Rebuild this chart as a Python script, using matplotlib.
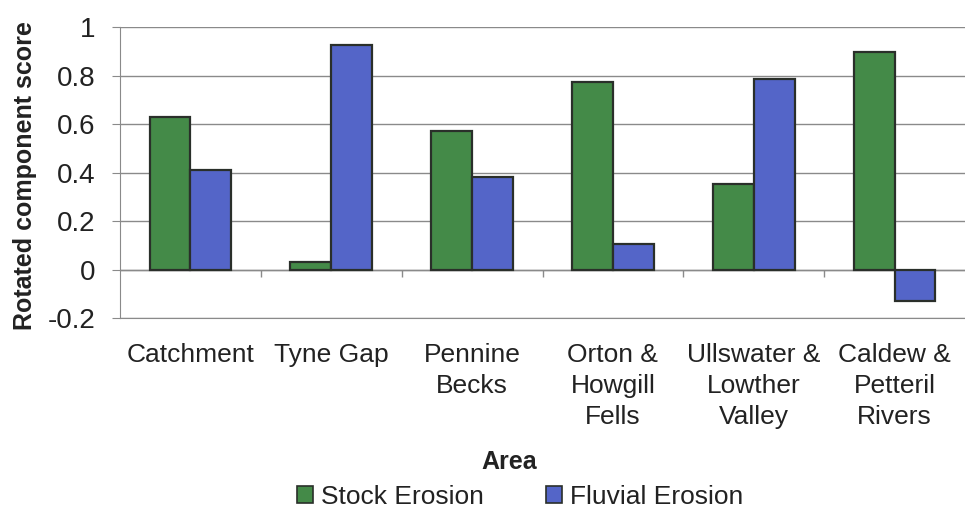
import matplotlib
matplotlib.use("Agg")
import matplotlib.pyplot as plt
import numpy as np
from matplotlib.patches import Patch

plt.rcParams['font.family'] = ['Liberation Sans', 'DejaVu Sans']

categories = ["Catchment", "Tyne Gap", "Pennine\nBecks", "Orton &\nHowgill\nFells",
              "Ullswater &\nLowther\nValley", "Caldew &\nPetteril\nRivers"]
stock_erosion = [0.63, 0.03, 0.57, 0.775, 0.353, 0.895]
fluvial_erosion = [0.41, 0.925, 0.38, 0.106, 0.786, -0.13]
series_names = ["Stock Erosion", "Fluvial Erosion"]
yticks = [-0.2, 0, 0.2, 0.4, 0.6, 0.8, 1]
ytick_labels = ["-0.2", "0", "0.2", "0.4", "0.6", "0.8", "1"]

green = "#448a48"
blue = "#5465c8"
edge = "#2a2f2a"
grid_c = "#8a8a8a"
text_c = "#222222"

fig = plt.figure(figsize=(9.65, 5.14), dpi=100)
ax = fig.add_axes([0.1244, 0.381, 0.8756, 0.5665])

x = np.arange(len(categories))
w = 0.29
ax.bar(x - w / 2, stock_erosion, w, color=green, edgecolor=edge, linewidth=1.6, zorder=3)
ax.bar(x + w / 2, fluvial_erosion, w, color=blue, edgecolor=edge, linewidth=1.6, zorder=3)

ax.set_xlim(-0.5, len(categories) - 0.5)
ax.set_ylim(-0.2, 1.0)
ax.set_yticks(yticks)
ax.set_yticklabels(ytick_labels, fontsize=20, color=text_c)
ax.tick_params(axis='y', direction='out', length=6, color=grid_c, pad=12)
ax.yaxis.grid(True, color=grid_c, linewidth=1.0, zorder=0)
ax.set_xticks([])

for s in ['top', 'right']:
    ax.spines[s].set_visible(False)
ax.spines['left'].set_color(grid_c)
ax.spines['bottom'].set_color(grid_c)

# category axis at zero with tick marks at boundaries
ax.axhline(0, color=grid_c, linewidth=1.0, zorder=2)
bounds = np.arange(len(categories) + 1) - 0.5
ax.vlines(bounds[1:-1], -0.03, 0, color=grid_c, linewidth=1.0, zorder=2)

for xi, lab in zip(x, categories):
    ax.text(xi, -0.085, lab, transform=ax.get_xaxis_transform(), ha='center', va='top',
            fontsize=19, color=text_c, linespacing=1.38)

fig.text(0.026, 0.658, "Rotated component score", rotation=90, ha='center', va='center',
         fontsize=18, fontweight='bold', color=text_c)
fig.text(0.528, 0.101, "Area", ha='center', va='center', fontsize=18,
         fontweight='bold', color=text_c)

handles = [Patch(facecolor=green, edgecolor=edge, linewidth=1.2),
           Patch(facecolor=blue, edgecolor=edge, linewidth=1.2)]
fig.legend(handles, series_names, loc='center', bbox_to_anchor=(0.539, 0.034), ncol=2,
           frameon=False, fontsize=19, handlelength=0.6, handleheight=0.6,
           handletextpad=0.3, columnspacing=2.35, labelcolor=text_c)

fig.savefig("out.png", dpi=100)
